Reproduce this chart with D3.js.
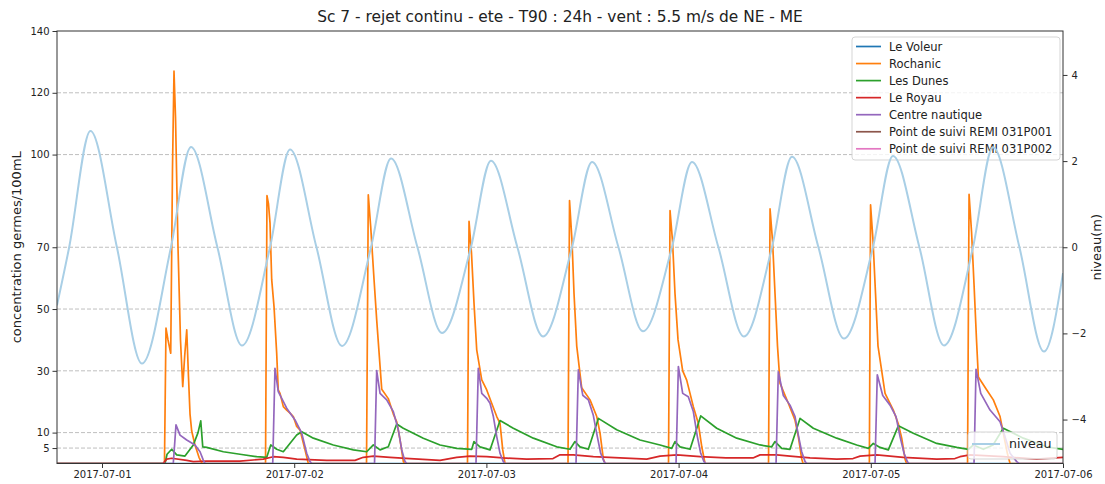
<!DOCTYPE html>
<html>
<head>
<meta charset="utf-8">
<script src="https://cdn.jsdelivr.net/npm/d3@7"></script>
<style>
  html, body { margin: 0; padding: 0; background: #fff; }
  svg { display: block; font-family: "DejaVu Sans", sans-serif; }
</style>
</head>
<body>
<svg id="chart" width="1105" height="484"></svg>
<script>
// Time is given in hours from 2017-07-01 00:00 (UTC); values in germes/100mL.
const chartTitle = "Sc 7 - rejet continu - ete - T90 : 24h - vent : 5.5 m/s de NE - ME";
const leftTicks = [5, 10, 30, 50, 70, 100, 120, 140];
const rightTicks = [-4, -2, 0, 2, 4];
const seriesNames = ["Le Voleur", "Rochanic", "Les Dunes", "Le Royau", "Centre nautique",
  "Point de suivi REMI 031P001", "Point de suivi REMI 031P002"];
const seriesColors = ["#1f77b4", "#ff7f0e", "#2ca02c", "#d62728", "#9467bd", "#8c564b", "#e377c2"];

const leVoleur = [[-5.62, 0], [120, 0]];

const rochanic = [
  [-5.62, 0], [7.8, 0], [7.99, 43.8], [8.24, 40], [8.58, 35.7], [8.8, 95], [8.99, 127], [9.18, 112], [9.49, 70],
  [9.8, 40], [10.08, 24.9], [10.33, 35], [10.58, 43.3], [10.8, 28], [10.99, 16], [11.2, 10.5], [11.61, 6],
  [12.11, 2], [12.49, 0],
  [20.42, 0], [20.6, 86.7], [20.79, 84], [20.98, 77.8], [21.19, 59.5], [21.48, 50.8], [21.81, 35.8], [22.01, 23.8],
  [22.23, 22.7], [22.64, 18.4], [23.06, 17.3], [23.48, 16.3], [23.89, 15.2], [24.31, 12], [24.72, 10.9],
  [25.35, 4.4], [25.76, 0],
  [33.03, 0], [33.25, 87], [33.55, 76.7], [33.97, 59.5], [34.3, 46.5], [34.93, 24], [35.75, 21], [36.38, 16],
  [36.8, 13.5], [37.22, 7.6], [37.63, 0.6], [37.8, 0],
  [45.64, 0], [45.83, 78.4], [46.14, 68], [46.45, 52], [46.79, 36.8], [47.42, 27.1], [48.04, 23.8], [48.66, 19.5],
  [49.29, 15.2], [49.7, 13], [50.04, 4.4], [50.32, 0],
  [58.19, 0], [58.38, 85.1], [58.69, 72], [58.94, 55], [59.28, 38], [59.9, 24.5], [60.94, 20.6], [61.78, 15.2],
  [62.19, 9.8], [62.6, 1.5], [62.81, 0],
  [70.74, 0], [70.93, 81.9], [71.24, 72], [71.55, 55], [71.93, 40], [72.51, 30], [73.01, 27], [73.84, 18.4],
  [74.46, 13], [74.89, 5.5], [75.3, 0],
  [83.23, 0], [83.42, 82.4], [83.73, 72], [84.04, 55], [84.35, 38], [84.66, 26], [85.7, 19.5], [86.54, 14],
  [86.95, 8.7], [87.37, 1.5], [87.54, 0],
  [95.82, 0], [95.97, 83.7], [96.28, 72], [96.59, 55], [96.9, 38], [97.78, 22.7], [98.81, 17.3], [99.44, 12.8],
  [99.86, 8.2], [100.27, 1.5], [100.46, 0],
  [108.08, 0], [108.27, 87.1], [108.58, 75], [108.89, 58], [109.2, 40], [109.43, 28], [110.48, 23.8],
  [111.3, 20.6], [112.14, 15.2], [112.55, 9.8], [113.05, 3.3], [113.39, 0],
  [120, 0]
];

const lesDunes = [
  [-5.62, 0], [7.87, 0], [8.12, 3], [8.7, 4.6], [9.33, 2.8], [10.36, 2.4], [11.4, 6.0], [11.99, 10], [12.33, 13.8],
  [12.58, 5.4], [13.07, 5.2], [15.15, 3.8], [17.23, 3.0], [19.32, 2.2], [20.57, 2.0], [21.07, 6.0], [21.82, 4.6],
  [22.64, 3.8], [24.31, 9.2], [24.94, 10.3], [26.39, 8.2], [28.88, 6.0], [31.38, 4.4], [33.05, 3.8], [33.88, 6.0],
  [34.72, 4.4], [35.75, 5.4], [36.8, 12.8], [37.62, 11.4], [40.12, 8.2], [42.21, 6.0], [44.29, 4.9], [46.17, 4.6],
  [46.45, 7.1], [47.2, 5.4], [48.45, 4.4], [49.7, 13.9], [51.36, 11.4], [53.86, 8.2], [56.78, 5.4], [58.44, 4.6],
  [59.06, 7.1], [59.69, 5.4], [60.73, 4.6], [61.98, 14.6], [64.27, 10.9], [67.18, 7.6], [69.68, 6.0], [71.14, 4.9],
  [71.55, 7.1], [72.18, 5.4], [73.43, 4.6], [74.76, 15.4], [76.76, 11.4], [79.26, 8.2], [82.17, 6.0], [83.63, 5.4],
  [84.04, 7.1], [84.88, 4.9], [85.91, 4.6], [87.16, 14.6], [88.82, 11.4], [91.74, 8.2], [94.24, 6.0], [95.69, 4.9],
  [96.31, 6.5], [97.15, 5.2], [98.19, 4.4], [99.44, 12.2], [101.31, 9.8], [104.23, 6.5], [106.73, 5.2],
  [108.18, 4.6], [108.81, 6.0], [110.05, 4.6], [111.26, 6.0], [112.55, 11.4], [115.05, 8.2], [117.97, 5.4],
  [120, 4.6]
];

const leRoyau = [
  [-5.62, 0], [7.62, 0], [8.08, 1.4], [8.7, 1.7], [10.58, 1.0], [11.4, 0.6], [13.07, 0.8], [17.23, 0.8],
  [20.14, 1.4], [21.39, 2.2], [22.64, 2.0], [24.31, 1.4], [28.06, 1.0], [31.59, 1.0], [32.63, 2.0], [33.88, 2.4],
  [35.96, 2.0], [38.46, 1.6], [42.21, 1.0], [44.29, 2.0], [45.95, 2.4], [48.04, 2.2], [50.07, 1.8], [53.03, 1.4],
  [56.32, 1.6], [57.19, 2.8], [58.85, 2.8], [61.35, 2.2], [64.69, 1.8], [68.02, 1.4], [69.68, 2.4], [71.77, 2.8],
  [74.68, 2.2], [77.92, 1.8], [81.29, 1.8], [82.17, 2.8], [84.25, 2.8], [85.91, 2.4], [88.41, 1.8], [91.74, 1.4],
  [93.78, 1.6], [94.66, 2.4], [96.74, 2.8], [100.06, 2.0], [104.23, 1.4], [106.51, 1.6], [107.14, 2.2],
  [108.39, 2.8], [112.55, 2.2], [116.72, 1.4], [119.0, 1.8], [120, 2.0]
];

const centreNautique = [
  [-5.62, 0], [8.9, 0], [9.24, 12.5], [9.74, 9.2], [10.58, 7.6], [11.61, 6.0], [12.24, 3.8], [12.65, 1.1], [12.86, 0],
  [21.32, 0], [21.6, 30.8], [22.01, 23.3], [23.06, 17.9], [24.1, 14.1], [24.94, 9.8], [25.56, 3.3], [25.97, 0.6], [26.22, 0],
  [34.03, 0], [34.3, 30.1], [34.72, 22.7], [35.55, 20.6], [36.38, 16.8], [37.0, 10.9], [37.43, 4.4], [37.84, 0.6], [38.09, 0],
  [46.7, 0], [46.99, 30.8], [47.42, 22.7], [48.04, 21.1], [48.45, 19.5], [48.87, 15.2], [49.29, 8.7], [49.7, 3.3], [50.11, 0.6], [50.32, 0],
  [59.19, 0], [59.48, 30.3], [60.03, 22.1], [60.73, 20.6], [61.35, 15.6], [61.85, 8.7], [62.27, 3.3], [62.69, 0.6], [62.94, 0],
  [71.68, 0], [71.97, 31.4], [72.51, 22.7], [73.21, 21.6], [73.84, 16.8], [74.34, 8.7], [74.76, 3.3], [75.17, 0.6], [75.42, 0],
  [84.17, 0], [84.45, 29.7], [85.08, 22], [85.91, 18.9], [86.54, 15.2], [86.95, 9.2], [87.37, 3.8], [87.79, 0.6], [88.04, 0],
  [96.53, 0], [96.81, 28.7], [97.49, 22], [98.4, 18.9], [99.15, 15.2], [99.65, 8.7], [100.15, 3.3], [100.56, 0.6], [100.77, 0],
  [108.89, 0], [109.14, 30.5], [109.73, 22.7], [110.89, 17.3], [112.14, 13.5], [112.76, 8.7], [113.39, 3.3], [114.22, 0.6], [114.51, 0],
  [120, 0]
];

const remi031P001 = [];
const remi031P002 = [];

// Water level (m): extrema and zero crossings of the tide
const niveau = [
  [-5.62, -1.35], [-4.1, 0], [-1.44, 2.70], [1.86, 0], [4.99, -2.70], [8.61, 0], [11.11, 2.33], [14.41, 0],
  [17.48, -2.28], [20.98, 0], [23.48, 2.27], [26.78, 0], [29.97, -2.29], [33.59, 0], [36.09, 2.06], [39.39, 0],
  [42.46, -1.99], [46.07, 0], [48.57, 2.01], [51.87, 0], [55.07, -2.07], [58.69, 0], [61.19, 1.98], [64.49, 0],
  [67.55, -1.95], [71.17, 0], [73.67, 1.98], [76.97, 0], [80.16, -2.07], [83.66, 0], [86.16, 2.10], [89.46, 0],
  [92.65, -2.12], [96.27, 0], [98.77, 2.12], [102.07, 0], [105.14, -2.28], [108.76, 0], [111.26, 2.32],
  [114.56, 0], [117.63, -2.42], [120, -0.6]
];

const seriesData = [leVoleur, rochanic, lesDunes, leRoyau, centreNautique, remi031P001, remi031P002];

const svg = d3.select("#chart");
const W = 1105, H = 484;
const m = { left: 57, right: 1063, top: 31, bottom: 463.5 };

const base = Date.UTC(2017, 6, 1);
const toDate = h => new Date(base + h * 3600e3);

const x = d3.scaleUtc().domain([toDate(-5.62), toDate(120)]).range([m.left, m.right]);
const yL = d3.scaleLinear().domain([0, 140]).range([m.bottom, m.top]);
const yR = d3.scaleLinear().domain([-5.02, 5.02]).range([m.bottom, m.top]);

svg.append("rect").attr("width", W).attr("height", H).attr("fill", "#fff");

svg.append("defs").append("clipPath").attr("id", "plotClip")
  .append("rect").attr("x", m.left).attr("y", m.top)
  .attr("width", m.right - m.left).attr("height", m.bottom - m.top);

// horizontal dashed grid on the concentration axis
svg.append("g").selectAll("line")
  .data(leftTicks.filter(v => v < 140))
  .join("line")
  .attr("x1", m.left).attr("x2", m.right)
  .attr("y1", d => yL(d)).attr("y2", d => yL(d))
  .attr("stroke", "#b8b8b8").attr("stroke-width", 0.9)
  .attr("stroke-dasharray", "4,2");

// concentration series
const lineL = d3.line().x(d => x(toDate(d[0]))).y(d => yL(d[1]));
const plot = svg.append("g").attr("clip-path", "url(#plotClip)");
seriesData.forEach((s, i) => {
  if (!s.length) return;
  plot.append("path").datum(s)
    .attr("d", lineL)
    .attr("fill", "none")
    .attr("stroke", seriesColors[i])
    .attr("stroke-width", 1.7)
    .attr("stroke-linejoin", "round");
});

// legend of the concentration series
const lg = svg.append("g").attr("transform", "translate(852,37)");
lg.append("rect").attr("width", 208).attr("height", 123).attr("rx", 3)
  .attr("fill", "#fff").attr("fill-opacity", 0.8).attr("stroke", "#d0d0d0").attr("stroke-width", 0.9);
seriesNames.forEach((name, i) => {
  const yy = 9.5 + i * 17.05;
  lg.append("line").attr("x1", 4).attr("x2", 29).attr("y1", yy).attr("y2", yy)
    .attr("stroke", seriesColors[i]).attr("stroke-width", 1.7);
  lg.append("text").attr("x", 37).attr("y", yy).attr("dy", "0.35em")
    .attr("font-size", "11.5px").attr("fill", "#222").text(name);
});

// water level on the secondary axis
const lineR = d3.line().x(d => x(toDate(d[0]))).y(d => yR(d[1])).curve(d3.curveMonotoneX);
svg.append("g").attr("clip-path", "url(#plotClip)")
  .append("path").datum(niveau)
  .attr("d", lineR)
  .attr("fill", "none")
  .attr("stroke", "#a9cfe6")
  .attr("stroke-width", 2);

// legend of the water level
const lg2 = svg.append("g").attr("transform", "translate(968,432)");
lg2.append("rect").attr("width", 89).attr("height", 27).attr("rx", 3)
  .attr("fill", "#fff").attr("fill-opacity", 0.8).attr("stroke", "#d0d0d0").attr("stroke-width", 0.9);
lg2.append("line").attr("x1", 4).attr("x2", 32).attr("y1", 12).attr("y2", 12)
  .attr("stroke", "#a9cfe6").attr("stroke-width", 2);
lg2.append("text").attr("x", 41).attr("y", 12).attr("dy", "0.35em")
  .attr("font-size", "12.6px").attr("fill", "#222").text("niveau");

// axes
const axL = svg.append("g").attr("transform", `translate(${m.left},0)`)
  .call(d3.axisLeft(yL).tickValues(leftTicks).tickSize(4.5).tickPadding(3));
const axR = svg.append("g").attr("transform", `translate(${m.right},0)`)
  .call(d3.axisRight(yR).tickValues(rightTicks).tickSize(4.5).tickPadding(4)
    .tickFormat(d => d < 0 ? "\u2212" + Math.abs(d) : String(d)));
const dayTicks = d3.utcDay.range(toDate(0), toDate(121));
const axB = svg.append("g").attr("transform", `translate(0,${m.bottom})`)
  .call(d3.axisBottom(x).tickValues(dayTicks).tickSize(4.5).tickPadding(3)
    .tickFormat(d3.utcFormat("%Y-%m-%d")));
[axL, axR, axB].forEach(a => {
  a.select(".domain").remove();
  a.selectAll("text").attr("font-size", "10px").attr("fill", "#222")
    .attr("font-family", "DejaVu Sans, sans-serif");
  a.selectAll("line").attr("stroke", "#333");
});

// frame
svg.append("rect").attr("x", m.left).attr("y", m.top)
  .attr("width", m.right - m.left).attr("height", m.bottom - m.top)
  .attr("fill", "none").attr("stroke", "#333").attr("stroke-width", 1);

// titles
svg.append("text").attr("x", (m.left + m.right) / 2).attr("y", 22)
  .attr("text-anchor", "middle").attr("font-size", "15.4px").attr("fill", "#222").text(chartTitle);
svg.append("text").attr("transform", `translate(21,${(m.top + m.bottom) / 2}) rotate(-90)`)
  .attr("text-anchor", "middle").attr("font-size", "13px").attr("fill", "#222")
  .text("concentration germes/100mL");
svg.append("text").attr("transform", `translate(1101,${(m.top + m.bottom) / 2}) rotate(-90)`)
  .attr("text-anchor", "middle").attr("font-size", "13px").attr("fill", "#222")
  .text("niveau(m)");
</script>
</body>
</html>
